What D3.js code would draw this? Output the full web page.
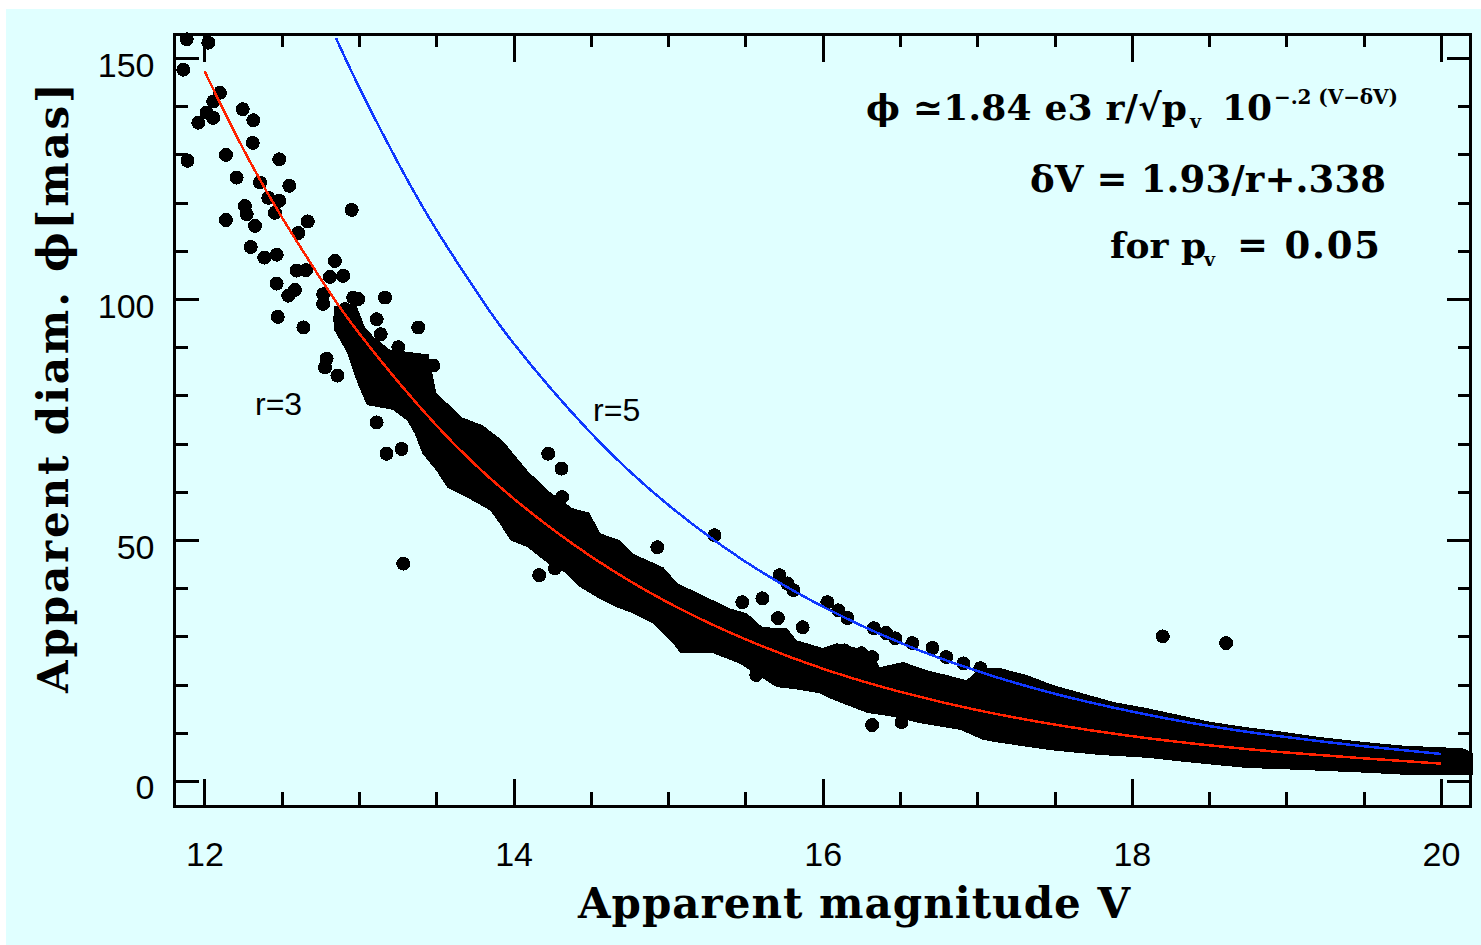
<!DOCTYPE html>
<html>
<head>
<meta charset="utf-8">
<script src="https://cdn.jsdelivr.net/npm/d3@7"></script>
<style>
  html, body { margin: 0; padding: 0; background: #ffffff; }
  svg { display: block; }
</style>
</head>
<body>
<div id="container"></div>
<script>
/* DATA */
// single objects that stand out of the main cloud: magnitude V, apparent diameter (mas)
const starV = [
  11.885, 12.025, 11.863, 12.10, 12.057, 12.014, 11.96, 12.057, 12.247, 12.316,
  12.312, 12.139, 11.89, 12.484, 12.208, 12.359, 12.549, 12.413, 12.484, 12.262,
  12.273, 12.456, 12.139, 12.327, 12.952, 12.668, 12.607, 12.299, 12.387, 12.467,
  12.844, 12.596, 12.657, 12.812, 12.898, 12.467, 12.585, 12.542, 12.768, 12.768,
  12.962, 12.995, 13.168, 12.909, 12.474, 12.64, 12.876, 13.114, 13.14, 13.383,
  12.952, 12.995, 13.254, 13.114, 13.265, 12.79, 12.78, 12.86, 13.48, 13.114,
  13.178, 13.275, 13.286, 14.224, 14.31, 14.314, 14.166, 14.267, 14.93,
  15.30, 15.72, 15.77, 15.81, 16.03, 16.10, 16.16, 16.33, 16.41, 16.47,
  16.58, 16.71, 16.80, 16.91, 17.02, 17.13, 17.21,
  15.61, 15.48, 15.71, 15.87, 16.14, 16.25, 16.32, 15.57, 16.32, 16.51,
  18.20, 18.61
];
const starDiam = [
  153.9, 153.2, 147.6, 142.8, 141.0, 138.7, 136.6, 137.6, 139.4, 137.1,
  132.4, 129.9, 128.7, 129.0, 125.2, 124.2, 123.5, 121.0, 120.4, 119.3,
  117.6, 117.9, 116.4, 115.2, 118.5, 116.1, 113.7, 110.8, 108.6, 109.2,
  107.9, 105.9, 106.0, 104.6, 104.8, 103.2, 101.9, 100.7, 101.0, 99.0,
  100.3, 100.0, 100.3, 97.9, 96.3, 94.1, 95.8, 95.8, 92.7, 94.1,
  90.3, 88.6, 90.0, 88.3, 87.6, 87.6, 85.8, 84.1, 86.2, 74.4,
  67.9, 68.9, 45.1, 67.9, 64.8, 58.9, 42.7, 44.1, 48.5,
  51.0, 42.7, 41.0, 39.6, 37.1, 35.4, 33.8, 31.7, 30.7, 29.6,
  28.6, 27.6, 25.7, 24.4, 23.4, 22.0, 20.9,
  37.9, 37.1, 33.8, 31.9, 27.1, 26.5, 25.7, 22.0, 11.6, 12.2,
  30.0, 28.6
];

// outline of the dense cloud of objects (upper and lower edge)
const bandTopV = [12.84, 12.98, 13.04, 13.1, 13.2, 13.45, 13.5, 13.67, 13.80, 13.93, 14.02, 14.09,
  14.22, 14.38, 14.49, 14.56, 14.69, 14.77, 14.97, 15.06, 15.20, 15.29,
  15.40, 15.51, 15.61, 15.77, 15.83, 16.00, 16.09, 16.22, 16.32, 16.37,
  16.52, 16.67, 16.80, 16.93, 17.02, 17.15, 17.32, 17.49, 17.68, 17.88,
  18.10, 18.36, 18.52, 18.78, 18.98, 19.22, 19.56, 19.77, 20.14, 20.21];
const bandTopDiam = [98.5, 99, 94, 92, 89.5, 88.5, 80.5, 75.4, 73.8, 70.6, 67.1, 64.4,
  60.3, 56.6, 55.7, 51.4, 49.9, 47.2, 44.3, 41.0, 38.9, 37.5,
  35.8, 34.8, 31.9, 31.7, 29.2, 27.6, 28.6, 27.6, 26.5, 23.6,
  24.7, 23.0, 22.0, 20.9, 23.4, 23.4, 22.0, 19.9, 18.2, 16.4,
  15.1, 13.3, 12.2, 11.0, 10.2, 9.1, 7.9, 7.3, 6.8, 5.8];
const bandBotV = [12.84, 12.92, 12.99, 13.05, 13.22, 13.31, 13.36, 13.41, 13.50, 13.57, 13.70,
  13.85, 13.91, 13.98, 14.09, 14.22, 14.34, 14.43, 14.54, 14.67, 14.77,
  14.90, 15.03, 15.08, 15.29, 15.46, 15.70, 15.85, 15.98, 16.07, 16.29,
  16.46, 16.63, 16.89, 17.04, 17.15, 17.47, 17.79, 18.10, 18.36, 18.74,
  19.09, 19.52, 19.82, 20.21];
const bandBotDiam = [93.5, 89, 82.5, 78, 77, 74.8, 72.1, 67.9, 64.4, 60.9, 58.8,
  56.1, 53.4, 49.9, 48.5, 45.2, 43.1, 40.2, 38.1, 36.0, 34.8,
  32.7, 28.6, 26.5, 26.5, 24.4, 19.5, 18.9, 18.2, 16.8, 14.1,
  13.3, 12.0, 10.6, 8.5, 7.9, 6.4, 5.4, 4.8, 3.9, 2.7,
  2.3, 1.7, 1.2, 1.2];

// model curves
const r3V = [12.0, 12.25, 12.5, 12.75, 13.0, 13.5, 14.0, 14.5, 15.0, 15.5,
  16.0, 16.5, 17.0, 17.5, 18.0, 18.5, 19.0, 19.5, 20.0];
const r3Diam = [147.3, 131.2, 117.0, 104.3, 92.9, 73.8, 58.6, 46.6, 37.0, 29.4,
  23.3, 18.5, 14.7, 11.7, 9.3, 7.4, 5.9, 4.7, 3.6];
const r5V = [12.85, 13.0, 13.25, 13.5, 13.75, 14.0, 14.5, 15.0, 15.5, 16.0,
  16.5, 17.0, 17.5, 18.0, 18.5, 19.0, 19.5, 20.0];
const r5Diam = [154.2, 144.0, 128.4, 114.4, 102.0, 90.8, 72.2, 57.3, 45.5, 36.2,
  28.7, 22.8, 18.1, 14.4, 11.4, 9.1, 7.2, 5.6];

const xMajorTicks = [12, 14, 16, 18, 20];
const xMinorTicks = [12.5, 13, 13.5, 14.5, 15, 15.5, 16.5, 17, 17.5, 18.5, 19, 19.5];
const yMajorTicks = [0, 50, 100, 150];
const yMinorTicks = [10, 20, 30, 40, 60, 70, 80, 90, 110, 120, 130, 140];

/* CONSTANTS */
const width = 1481, height = 945;
const bg = "#e0ffff";
const tickFont = "'Liberation Sans', Arial, sans-serif";
const titleFont = "'DejaVu Serif', serif";

const svg = d3.select("#container")
  .append("svg")
  .attr("width", width)
  .attr("height", height)
  .attr("shape-rendering", "crispEdges")

svg.append("rect")
  .attr("x", 6).attr("y", 9)
  .attr("width", width - 6).attr("height", height - 9)
  .attr("fill", bg)

// SCALES
const xScale = d3.scaleLinear()
  .domain([11.806, 20.191])
  .range([174.5, 1470.5])

const yScale = d3.scaleLinear()
  .domain([-5.3, 155])
  .range([806.5, 34])

const [x0, x1] = xScale.range();
const [yb, yt] = yScale.range();

// DENSE CLOUD
const upperEdge = bandTopV.map((v, i) => [v, bandTopDiam[i]]);
const lowerEdge = bandBotV.map((v, i) => [v, bandBotDiam[i]]).reverse();
const outline = d3.line()
  .x(d => xScale(d[0]))
  .y(d => yScale(d[1]));

svg.append("path")
  .attr("d", outline(upperEdge.concat(lowerEdge)) + "Z")
  .attr("fill", "black")

// SINGLE OBJECTS
const stars = starV.map((v, i) => ({ v, d: starDiam[i] }));
svg.selectAll(".star")
  .data(stars)
  .join("circle")
  .attr("class", "star")
  .attr("cx", d => xScale(d.v))
  .attr("cy", d => yScale(d.d))
  .attr("r", 7)
  .attr("fill", "black")

// MODEL CURVES
const curveGen = d3.line()
  .x(d => xScale(d[0]))
  .y(d => yScale(d[1]))
  .curve(d3.curveNatural);

svg.append("path")
  .attr("d", curveGen(r3V.map((v, i) => [v, r3Diam[i]])))
  .attr("fill", "none")
  .attr("stroke", "#ff2200")
  .attr("stroke-width", 2.5)

svg.append("path")
  .attr("d", curveGen(r5V.map((v, i) => [v, r5Diam[i]])))
  .attr("fill", "none")
  .attr("stroke", "#1038ff")
  .attr("stroke-width", 2.5)

// AXES (ticks point inwards on all four sides)
function styleTicks(g) {
  g.select(".domain").remove();
  g.selectAll("line").attr("stroke", "black").attr("stroke-width", 3);
}

// bottom
svg.append("g")
  .attr("transform", `translate(0, ${yb})`)
  .call(d3.axisBottom(xScale).tickValues(xMinorTicks).tickSize(-15).tickFormat(""))
  .call(styleTicks)
svg.append("g")
  .attr("transform", `translate(0, ${yb})`)
  .call(d3.axisBottom(xScale).tickValues(xMajorTicks).tickSize(-28).tickFormat(d3.format("d")))
  .call(styleTicks)
  .call(g => g.selectAll("text")
    .attr("y", 59).attr("dy", 0)
    .attr("fill", "black")
    .style("font-family", tickFont)
    .style("font-size", "34px"))

// top
svg.append("g")
  .attr("transform", `translate(0, ${yt})`)
  .call(d3.axisTop(xScale).tickValues(xMinorTicks).tickSize(-13).tickFormat(""))
  .call(styleTicks)
svg.append("g")
  .attr("transform", `translate(0, ${yt})`)
  .call(d3.axisTop(xScale).tickValues(xMajorTicks).tickSize(-28).tickFormat(""))
  .call(styleTicks)

// left
svg.append("g")
  .attr("transform", `translate(${x0}, 0)`)
  .call(d3.axisLeft(yScale).tickValues(yMinorTicks).tickSize(-13).tickFormat(""))
  .call(styleTicks)
svg.append("g")
  .attr("transform", `translate(${x0}, 0)`)
  .call(d3.axisLeft(yScale).tickValues(yMajorTicks).tickSize(-24).tickFormat(d3.format("d")))
  .call(styleTicks)
  .call(g => g.selectAll("text")
    .attr("x", -20).attr("dy", 0).attr("y", 18)
    .attr("fill", "black")
    .style("font-family", tickFont)
    .style("font-size", "34px"))

// right
svg.append("g")
  .attr("transform", `translate(${x1}, 0)`)
  .call(d3.axisRight(yScale).tickValues(yMinorTicks).tickSize(-13).tickFormat(""))
  .call(styleTicks)
svg.append("g")
  .attr("transform", `translate(${x1}, 0)`)
  .call(d3.axisRight(yScale).tickValues(yMajorTicks).tickSize(-24).tickFormat(""))
  .call(styleTicks)

// frame
svg.append("rect")
  .attr("x", x0).attr("y", yt)
  .attr("width", x1 - x0).attr("height", yb - yt)
  .attr("fill", "none")
  .attr("stroke", "black")
  .attr("stroke-width", 3)

// AXIS TITLES
svg.append("text")
  .attr("x", 578).attr("y", 918)
  .attr("textLength", 552).attr("lengthAdjust", "spacing")
  .style("font-family", titleFont).style("font-weight", "bold").style("font-size", "42px")
  .text("Apparent magnitude V")

svg.append("text")
  .attr("transform", "translate(68, 693) rotate(-90)")
  .attr("textLength", 610).attr("lengthAdjust", "spacing")
  .style("font-family", titleFont).style("font-weight", "bold").style("font-size", "42px")
  .text("Apparent diam. \u03d5[mas]")

// CURVE LABELS
const labelStyle = t => t.style("font-family", tickFont).style("font-size", "32px").attr("fill", "black");
svg.append("text").attr("x", xScale(12.327)).attr("y", yScale(75.9)).text("r=3").call(labelStyle)
svg.append("text").attr("x", xScale(14.514)).attr("y", yScale(74.7)).text("r=5").call(labelStyle)

// FORMULA
const fStyle = (t, size) => t.style("font-family", titleFont).style("font-weight", "bold")
  .style("font-size", size + "px").attr("fill", "black");

svg.append("text").attr("x", 866).attr("y", 120)
  .attr("textLength", 321).attr("lengthAdjust", "spacing")
  .text("\u03d5 \u22431.84 e3 r/\u221ap").call(fStyle, 36)
svg.append("text").attr("x", 1190).attr("y", 128).text("v").call(fStyle, 19)
svg.append("text").attr("x", 1222).attr("y", 120).text("10").call(fStyle, 36)
svg.append("text").attr("x", 1274).attr("y", 104)
  .attr("textLength", 124).attr("lengthAdjust", "spacing")
  .text("\u2212.2 (V\u2212\u03b4V)").call(fStyle, 20)

svg.append("text").attr("x", 1030).attr("y", 192)
  .attr("textLength", 356).attr("lengthAdjust", "spacing")
  .text("\u03b4V = 1.93/r+.338").call(fStyle, 37)

svg.append("text").attr("x", 1110).attr("y", 258)
  .text("for p").call(fStyle, 36)
svg.append("text").attr("x", 1204).attr("y", 266).text("v").call(fStyle, 19)
svg.append("text").attr("x", 1237).attr("y", 258)
  .attr("textLength", 143).attr("lengthAdjust", "spacing")
  .text("= 0.05").call(fStyle, 37)
</script>
</body>
</html>
